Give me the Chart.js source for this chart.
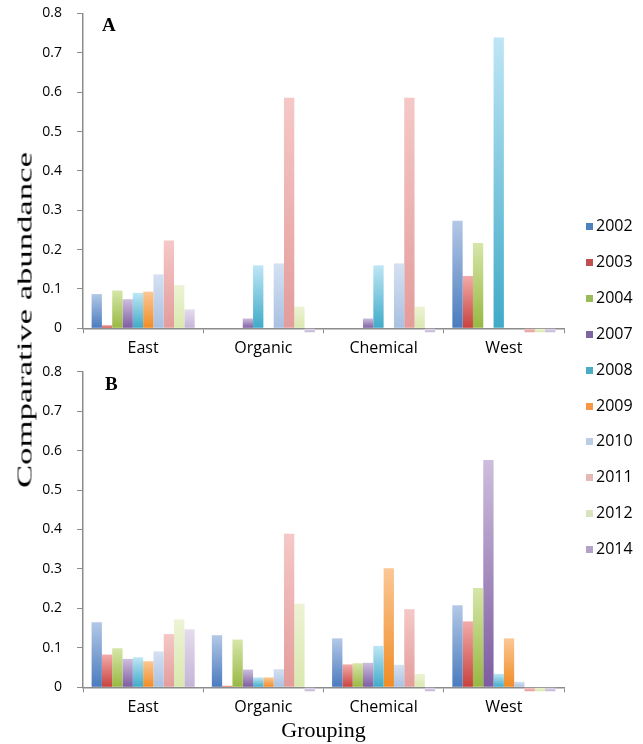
<!DOCTYPE html>
<html>
<head>
<meta charset="utf-8">
<script src="https://cdn.jsdelivr.net/npm/chart.js@4/dist/chart.umd.min.js"></script>
<style>
  body { margin: 0; background: #fff; }
  #page { position: relative; width: 643px; height: 744px; overflow: hidden; }
  #wrapA { position: absolute; left: 0; top: 0; width: 643px; height: 362px; }
  #wrapB { position: absolute; left: 0; top: 362px; width: 643px; height: 382px; }
  #ytitle {
    position: absolute; left: 25px; top: 320px;
    font-family: "Liberation Serif", serif; font-size: 21px; color: #000;
    white-space: nowrap;
    transform: translate(-50%, -50%) rotate(-90deg) scaleX(1.65);
  }
  #legend { position: absolute; left: 586px; top: 0; }
  .item { position: absolute; left: 0; white-space: nowrap;
    font-family: "Open Sans", sans-serif; font-size: 16px; color: #000; line-height: 20px; }
  .sw { display: inline-block; width: 7px; height: 7px; margin-right: 3px; vertical-align: 1px; }
</style>
</head>
<body>
<div id="page">
  <div id="wrapA"><canvas id="chartA"></canvas></div>
  <div id="wrapB"><canvas id="chartB"></canvas></div>
  <div id="ytitle">Comparative abundance</div>
  <div id="legend"></div>
</div>
<script>
(function () {
  'use strict'

  const groups = ['East', 'Organic', 'Chemical', 'West']
  const years = ['2002', '2003', '2004', '2007', '2008', '2009', '2010', '2011', '2012', '2014']

  // one row per year, columns follow groups
  const valuesA = [
    [0.087, 0, 0, 0.273],
    [0.008, 0, 0, 0.133],
    [0.096, 0, 0, 0.217],
    [0.074, 0.025, 0.025, 0],
    [0.090, 0.160, 0.160, 0.739],
    [0.093, 0, 0, 0],
    [0.137, 0.165, 0.165, 0],
    [0.223, 0.586, 0.586, -0.01],
    [0.110, 0.055, 0.055, -0.01],
    [0.048, -0.01, -0.01, -0.01]
  ]
  const valuesB = [
    [0.165, 0.132, 0.124, 0.208],
    [0.083, 0.004, 0.058, 0.167],
    [0.099, 0.121, 0.061, 0.252],
    [0.072, 0.045, 0.062, 0.576],
    [0.076, 0.025, 0.105, 0.034],
    [0.066, 0.025, 0.302, 0.124],
    [0.091, 0.046, 0.057, 0.014],
    [0.135, 0.389, 0.198, -0.01],
    [0.172, 0.212, 0.034, -0.01],
    [0.147, -0.01, -0.01, -0.01]
  ]
  const yTicks = [0, 0.1, 0.2, 0.3, 0.4, 0.5, 0.6, 0.7, 0.8]

  const lightColors = ['#B3C8E6', '#F2ABA9', '#D6E6A8', '#CDBEDD', '#BEE6F5', '#FBC795', '#D5E1F1', '#F5C8C7', '#EDF3D5', '#E5DCEE']
  const darkColors = ['#4A7BBE', '#C8413D', '#97B842', '#7D5BA0', '#3FAAC8', '#F08C25', '#A9C0E2', '#E39C9A', '#D9E8AE', '#C3B4D6']
  const legendColors = ['#4F81BD', '#C0504D', '#9BBB59', '#8064A2', '#4BACC6', '#F79646', '#B9CDE5', '#E6B9B8', '#D7E4BD', '#B3A2C7']

  const axisColor = '#8C8C8C'

  function barFill(i) {
    return function (c) {
      const chart = c.chart
      const y = chart.scales && chart.scales.y
      if (c.type !== 'data' || !y) return darkColors[i]
      const v = c.raw
      const top = y.getPixelForValue(Math.max(v, 0))
      const bot = y.getPixelForValue(Math.min(v, 0))
      if (!isFinite(top) || !isFinite(bot) || Math.abs(bot - top) < 0.5) return darkColors[i]
      const g = chart.ctx.createLinearGradient(0, top, 0, bot)
      g.addColorStop(0, lightColors[i])
      g.addColorStop(1, darkColors[i])
      return g
    }
  }

  function panelLabel(text, x, y) {
    return {
      id: 'panelLabel',
      afterDraw(chart) {
        const ctx = chart.ctx
        ctx.save()
        ctx.font = 'bold 19px "Liberation Serif", serif'
        ctx.fillStyle = '#000'
        ctx.textBaseline = 'alphabetic'
        ctx.fillText(text, x, y)
        ctx.restore()
      }
    }
  }

  function makeChart(id, values, label, padTop, xHeight, withTitle) {
    const datasets = years.map(function (yr, i) {
      return {
        label: yr,
        data: values[i],
        backgroundColor: barFill(i),
        borderWidth: 0,
        categoryPercentage: 0.857,
        barPercentage: 1.0,
        clip: false
      }
    })
    return new Chart(document.getElementById(id), {
      type: 'bar',
      data: { labels: groups, datasets: datasets },
      plugins: [label],
      options: {
        responsive: true,
        maintainAspectRatio: false,
        animation: false,
        layout: { padding: { left: 0, right: 643 - 564, top: padTop, bottom: 0 } },
        plugins: { legend: { display: false }, tooltip: { enabled: false } },
        scales: {
          x: {
            grid: {
              offset: true,
              drawOnChartArea: false,
              drawTicks: true,
              tickLength: 5,
              color: axisColor
            },
            border: { color: axisColor, width: 1.5 },
            ticks: {
              color: '#000',
              padding: 6,
              font: { family: '"Open Sans", sans-serif', size: 16 }
            },
            title: {
              display: withTitle,
              text: 'Grouping',
              color: '#000',
              padding: { top: 0, bottom: 0 },
              font: { family: '"Liberation Serif", serif', size: 22 }
            },
            afterFit: function (s) { s.height = xHeight }
          },
          y: {
            min: 0,
            max: 0.8,
            afterBuildTicks: function (s) {
              s.ticks = yTicks.map(function (v) { return { value: v } })
            },
            grid: {
              drawOnChartArea: false,
              drawTicks: true,
              tickLength: 6,
              color: axisColor
            },
            border: { color: axisColor, width: 1.5 },
            ticks: {
              color: '#000',
              padding: 15,
              font: { family: '"Open Sans", sans-serif', size: 14 },
              callback: function (v) { return v === 0 ? '0' : v.toFixed(1) }
            },
            afterFit: function (s) {
              s.width = 83
              s.paddingTop = 0
              s.paddingBottom = 0
            }
          }
        }
      }
    })
  }

  makeChart('chartA', valuesA, panelLabel('A', 102, 31), 13.5, 362 - 328.3, false)
  makeChart('chartB', valuesB, panelLabel('B', 105, 28), 9.7, 382 - 325.3, true)

  // legend shared by both panels
  const legend = document.getElementById('legend')
  years.forEach(function (yr, i) {
    const item = document.createElement('div')
    item.className = 'item'
    item.style.top = (225 + i * 35.9 - 10) + 'px'
    const sw = document.createElement('span')
    sw.className = 'sw'
    sw.style.background = legendColors[i]
    item.appendChild(sw)
    item.appendChild(document.createTextNode(yr))
    legend.appendChild(item)
  })
})()
</script>
</body>
</html>
